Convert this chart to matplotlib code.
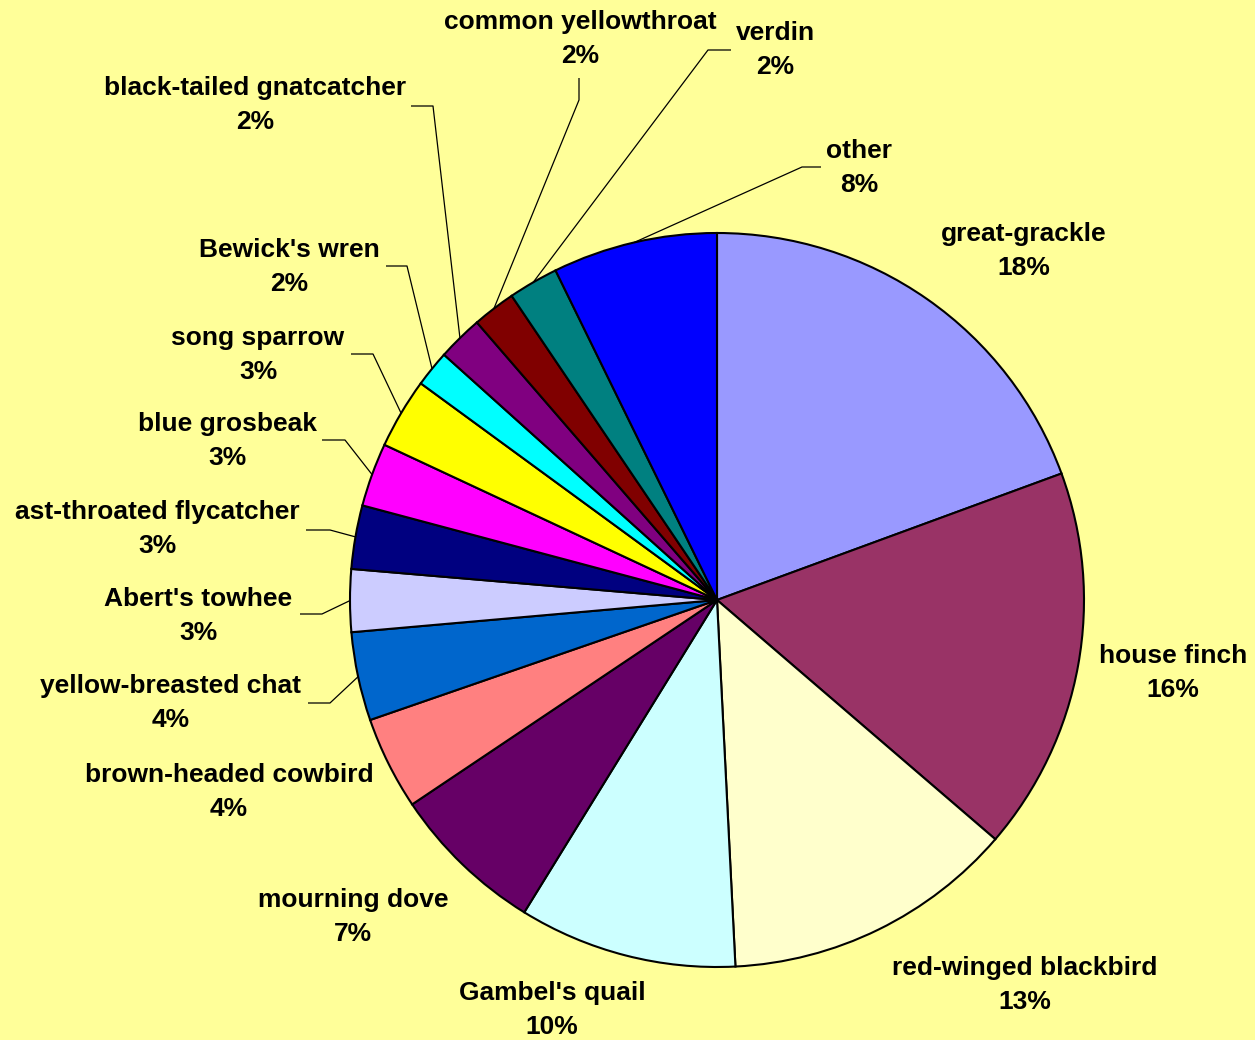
import matplotlib
matplotlib.use("Agg")
import numpy as np
import matplotlib.pyplot as plt

species = ["great-grackle", "house finch", "red-winged blackbird", "Gambel's quail",
           "mourning dove", "brown-headed cowbird", "yellow-breasted chat",
           "Abert's towhee", "ast-throated flycatcher", "blue grosbeak",
           "song sparrow", "Bewick's wren", "black-tailed gnatcatcher",
           "common yellowthroat", "verdin", "other"]
shares = [19.4, 16.9, 12.9, 9.6, 6.8, 4.1, 3.9, 2.75, 2.8, 2.8, 3.1, 1.6, 2.0, 1.9, 2.2, 7.25]
pct_labels = ["18%", "16%", "13%", "10%", "7%", "4%", "4%", "3%", "3%", "3%",
              "3%", "2%", "2%", "2%", "2%", "8%"]
colors = ["#9999FF", "#993366", "#FFFFCC", "#CCFFFF", "#660066", "#FF8080",
          "#0066CC", "#CCCCFF", "#000080", "#FF00FF", "#FFFF00", "#00FFFF",
          "#800080", "#800000", "#008080", "#0000FF"]

# label block centres (pixels)
label_pos = [(1024, 251), (1173, 673), (1025, 985), (552, 1010), (353, 917),
             (229, 792), (171, 703), (198, 616), (157, 529), (227, 441),
             (258, 355), (289, 267), (255, 105), (580, 39), (775, 50), (859, 168)]

# leader lines: slice index -> (start at label, elbow)
leaders = {15: ((821, 167), (802, 167)),
           14: ((731, 50), (708, 50)),
           13: ((579, 78), (579, 100)),
           12: ((411, 106), (433, 106)),
           11: ((386, 266), (407, 266)),
           10: ((351, 354), (373, 354)),
           9: ((322, 440), (345, 440)),
           8: ((306, 530), (330, 530)),
           7: ((300, 614), (322, 614)),
           6: ((308, 703), (330, 703))}

bg = "#FFFF99"
fig = plt.figure(figsize=(12.55, 10.4), dpi=100, facecolor=bg)
ax = fig.add_axes([0, 0, 1, 1])
ax.set_facecolor(bg)

cx, cy, r = 717, 600, 367
wedges, _ = ax.pie(shares, colors=colors, startangle=-90, counterclock=True,
                   center=(cx, cy), radius=r, frame=True,
                   wedgeprops=dict(edgecolor="black", linewidth=1.5))
ax.set_xlim(0, 1255)
ax.set_ylim(1040, 0)
ax.set_aspect("equal")
ax.axis("off")

for i, w in enumerate(wedges):
    x, y = label_pos[i]
    ax.text(x, y, species[i] + "\n" + pct_labels[i], ha="center", va="center",
            multialignment="center", fontsize=19, fontweight="bold",
            family="Liberation Sans", linespacing=1.5, color="black")
    if i in leaders:
        mid = np.deg2rad((w.theta1 + w.theta2) / 2)
        ex = cx + r * np.cos(mid)
        ey = cy + r * np.sin(mid)
        (sx, sy), (bx, by) = leaders[i]
        ax.plot([sx, bx, ex], [sy, by, ey], color="black", lw=0.9,
                solid_capstyle="butt")

fig.savefig("out.png", dpi=100, facecolor=bg)
